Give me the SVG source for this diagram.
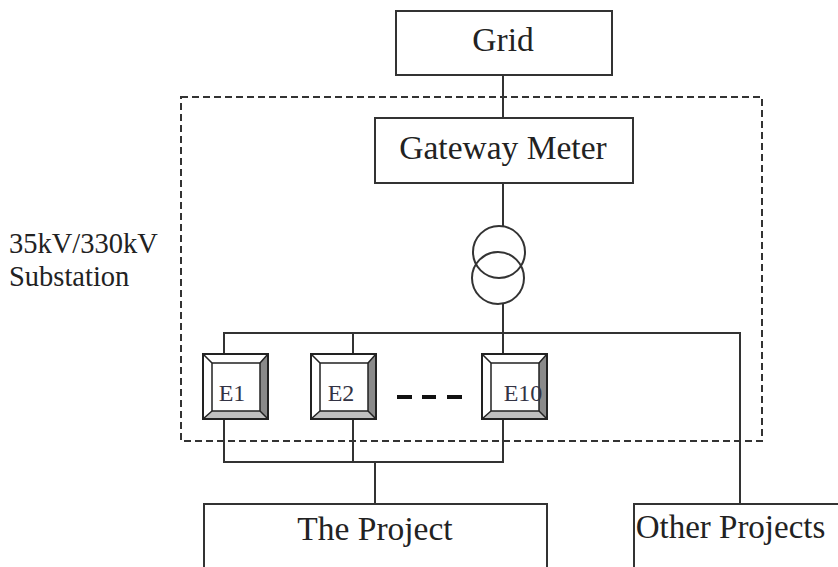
<svg xmlns="http://www.w3.org/2000/svg" width="838" height="567" viewBox="0 0 838 567">
<style>
text{font-family:"Liberation Serif",serif;fill:#222}
.b{fill:#fff;stroke:#333;stroke-width:2}
.l{fill:none;stroke:#333;stroke-width:2}
.t{font-size:33.5px;text-anchor:middle}
.e{font-size:24px;text-anchor:middle;fill:#334}
.o{fill:#fff;stroke:#222;stroke-width:2}
.g1{fill:#8a8a8a}
.g2{fill:#c0c0c0}
.i{fill:none;stroke:#222;stroke-width:1.5}
</style>
<defs>
<g id="btn">
<rect class="o" x="0" y="0" width="65" height="65"/>
<path class="g1" d="M57 9L65 0V65L57 57Z"/>
<path class="g2" d="M9 57H57L65 65H0Z"/>
<path class="i" d="M0 0L9 9M65 0L57 9M0 65L9 57M65 65L57 57"/>
<rect class="i" x="9" y="9" width="48" height="48"/>
<rect x="0" y="0" width="65" height="65" fill="none" stroke="#222" stroke-width="2"/>
</g>
</defs>
<rect width="838" height="567" fill="#fff"/>
<g id="connectors">
<path class="l" d="M503 75V118M503 183V226M503 304V354M224 354V333H740V504M353 333V354M224 419V462H503V419M353 419V462M375 462V504"/>
</g>
<rect id="substation" x="181" y="97" width="581" height="344" fill="none" stroke="#333" stroke-width="2" stroke-dasharray="7 4"/>
<g id="grid"><rect class="b" x="396" y="11" width="216" height="64"/><text class="t" x="503" y="51">Grid</text></g>
<g id="meter"><rect class="b" x="375" y="118" width="258" height="65"/><text class="t" x="503" y="159">Gateway Meter</text></g>
<g id="transformer"><circle class="l" cx="499" cy="252" r="26"/><circle class="l" cx="498" cy="278" r="26"/></g>
<g id="label"><text x="9" y="253" font-size="28.5">35kV/330kV</text><text x="9" y="286" font-size="28.5">Substation</text></g>
<g id="e1"><use href="#btn" x="203" y="354"/><text class="e" x="232" y="401">E1</text></g>
<g id="e2"><use href="#btn" x="311" y="354"/><text class="e" x="341" y="401">E2</text></g>
<g id="dash"><path d="M397 397H412M422 397H436M447 397H462" stroke="#111" stroke-width="4" fill="none"/></g>
<g id="e10"><use href="#btn" x="482" y="354"/><text class="e" x="523" y="401">E10</text></g>
<g id="project"><path class="b" d="M204 567V504H547V567"/><text class="t" x="375" y="540">The Project</text></g>
<g id="other"><path class="b" d="M634 567V504H838"/><text class="t" x="730.5" y="538" style="font-size:33px">Other Projects</text></g>
</svg>
